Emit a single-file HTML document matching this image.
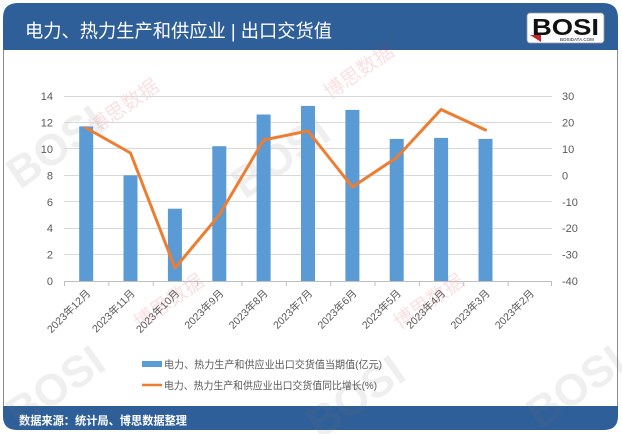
<!DOCTYPE html>
<html><head><meta charset="utf-8"><style>
html,body{margin:0;padding:0;background:#fff;}
svg{display:block;}
text{font-family:"Liberation Sans","Noto Sans CJK SC",sans-serif;}
</style></head><body>
<svg width="622" height="434" viewBox="0 0 622 434" xmlns="http://www.w3.org/2000/svg">
<rect x="0" y="0" width="622" height="434" fill="#fff"/>
<!-- frame -->
<path d="M3.5,40 L3.5,415 M617.5,40 L617.5,415" stroke="#8c8c8c" stroke-width="1" fill="none"/>
<!-- header -->
<path d="M3,50 L3,18 Q3,3 18,3 L603,3 Q618,3 618,18 L618,50 Z" fill="#2f5f99"/>
<text x="25" y="37.5" font-size="18.5" fill="#fff" textLength="307" lengthAdjust="spacingAndGlyphs">电力、热力生产和供应业 | 出口交货值</text>
<!-- logo -->
<rect x="527" y="13" width="77" height="30" rx="3" fill="#fff" stroke="#999" stroke-width="0.8"/>
<text x="532" y="35" font-size="23" font-weight="bold" fill="#111" font-family="'Liberation Sans',sans-serif" textLength="67" lengthAdjust="spacingAndGlyphs">BOSI</text>
<text x="560" y="41" font-size="4.5" fill="#111" font-family="'Liberation Sans',sans-serif">BOSIDATA.COM</text>
<path d="M530,35 L541,35 L541,42 Z" fill="#c0272d"/>
<!-- footer -->
<path d="M3,406 L618,406 L618,416 Q618,430 604,430 L17,430 Q3,430 3,416 Z" fill="#2f5f99"/>
<text x="19" y="424.5" font-size="11.5" font-weight="bold" fill="#fff" textLength="168" lengthAdjust="spacingAndGlyphs">数据来源：统计局、博思数据整理</text>

<!-- watermarks -->
<g opacity="0.12" font-family="'Liberation Sans',sans-serif" font-weight="bold" fill="#777">
<text x="0" y="0" font-size="44" transform="translate(20,190) rotate(-35)">BOSI</text>
<text x="0" y="0" font-size="44" transform="translate(245,200) rotate(-35)">BOSI</text>
<text x="0" y="0" font-size="44" transform="translate(20,430) rotate(-35)">BOSI</text>
<text x="0" y="0" font-size="44" transform="translate(320,440) rotate(-35)">BOSI</text>
<text x="0" y="0" font-size="44" transform="translate(540,430) rotate(-35)">BOSI</text>
</g>
<g opacity="0.14" fill="#d9232e">
<text x="0" y="0" font-size="20" transform="translate(95,135) rotate(-35)">博思数据</text>
<text x="0" y="0" font-size="20" transform="translate(330,100) rotate(-35)">博思数据</text>
<text x="0" y="0" font-size="20" transform="translate(140,330) rotate(-35)">博思数据</text>
<text x="0" y="0" font-size="20" transform="translate(400,330) rotate(-35)">博思数据</text>
</g>

<!-- gridlines -->
<g stroke="#d9d9d9" stroke-width="1">
<line x1="64" x2="552" y1="96.5" y2="96.5"/>
<line x1="64" x2="552" y1="122.5" y2="122.5"/>
<line x1="64" x2="552" y1="148.5" y2="148.5"/>
<line x1="64" x2="552" y1="175.5" y2="175.5"/>
<line x1="64" x2="552" y1="201.5" y2="201.5"/>
<line x1="64" x2="552" y1="228.5" y2="228.5"/>
<line x1="64" x2="552" y1="254.5" y2="254.5"/>
</g>
<!-- bars -->
<g fill="#5b9bd5">
<rect x="79.2" y="126.4" width="14" height="154.6"/>
<rect x="123.5" y="175.3" width="14" height="105.7"/>
<rect x="167.9" y="208.7" width="14" height="72.3"/>
<rect x="212.3" y="146.2" width="14" height="134.8"/>
<rect x="256.6" y="114.5" width="14" height="166.5"/>
<rect x="301" y="105.9" width="14" height="175.1"/>
<rect x="345.4" y="109.9" width="14" height="171.1"/>
<rect x="389.7" y="138.9" width="14" height="142.1"/>
<rect x="434.1" y="137.9" width="14" height="143.1"/>
<rect x="478.5" y="138.9" width="14" height="142.1"/>
</g>
<!-- axis -->
<line x1="64" x2="552" y1="281.5" y2="281.5" stroke="#bfbfbf" stroke-width="1"/>
<g stroke="#bfbfbf" stroke-width="1">
<line x1="64.5" x2="64.5" y1="281" y2="286"/>
<line x1="108.9" x2="108.9" y1="281" y2="286"/>
<line x1="153.2" x2="153.2" y1="281" y2="286"/>
<line x1="197.6" x2="197.6" y1="281" y2="286"/>
<line x1="241.9" x2="241.9" y1="281" y2="286"/>
<line x1="286.3" x2="286.3" y1="281" y2="286"/>
<line x1="330.7" x2="330.7" y1="281" y2="286"/>
<line x1="375" x2="375" y1="281" y2="286"/>
<line x1="419.4" x2="419.4" y1="281" y2="286"/>
<line x1="463.7" x2="463.7" y1="281" y2="286"/>
<line x1="508.1" x2="508.1" y1="281" y2="286"/>
<line x1="551.5" x2="551.5" y1="281" y2="286"/>
</g>
<!-- line series -->
<polyline points="86.2,128 130.5,153 175,268 219.3,215 263.6,140 308,131 352.4,187 396.7,157.5 441.1,109.5 485.5,130" fill="none" stroke="#ed7d31" stroke-width="3" stroke-linejoin="round" stroke-linecap="round"/>

<!-- left axis labels -->
<g font-size="11" fill="#595959" text-anchor="end">
<text x="53" y="100">14</text>
<text x="53" y="126.5">12</text>
<text x="53" y="153">10</text>
<text x="53" y="179.5">8</text>
<text x="53" y="206">6</text>
<text x="53" y="232">4</text>
<text x="53" y="258.5">2</text>
<text x="53" y="285">0</text>
</g>
<!-- right axis labels -->
<g font-size="11" fill="#595959">
<text x="562" y="100">30</text>
<text x="562" y="126.5">20</text>
<text x="562" y="153">10</text>
<text x="562" y="179.5">0</text>
<text x="562" y="206">-10</text>
<text x="562" y="232">-20</text>
<text x="562" y="258.5">-30</text>
<text x="562" y="285">-40</text>
</g>
<!-- x labels -->
<g font-size="10.5" fill="#595959" text-anchor="end">
<text transform="translate(91,294) rotate(-45)">2023年12月</text>
<text transform="translate(135.5,294) rotate(-45)">2023年11月</text>
<text transform="translate(180,294) rotate(-45)">2023年10月</text>
<text transform="translate(224.3,294) rotate(-45)">2023年9月</text>
<text transform="translate(268.6,294) rotate(-45)">2023年8月</text>
<text transform="translate(313,294) rotate(-45)">2023年7月</text>
<text transform="translate(357.4,294) rotate(-45)">2023年6月</text>
<text transform="translate(401.7,294) rotate(-45)">2023年5月</text>
<text transform="translate(446.1,294) rotate(-45)">2023年4月</text>
<text transform="translate(490.5,294) rotate(-45)">2023年3月</text>
<text transform="translate(534.8,294) rotate(-45)">2023年2月</text>
</g>
<!-- legend -->
<rect x="142" y="361" width="20" height="6" fill="#5b9bd5"/>
<text x="164" y="368" font-size="10.5" fill="#595959" textLength="218" lengthAdjust="spacingAndGlyphs">电力、热力生产和供应业出口交货值当期值(亿元)</text>
<line x1="142" x2="162" y1="385" y2="385" stroke="#ed7d31" stroke-width="2.5"/>
<text x="164" y="389" font-size="10.5" fill="#595959" textLength="213" lengthAdjust="spacingAndGlyphs">电力、热力生产和供应业出口交货值同比增长(%)</text>
</svg>
</body></html>
